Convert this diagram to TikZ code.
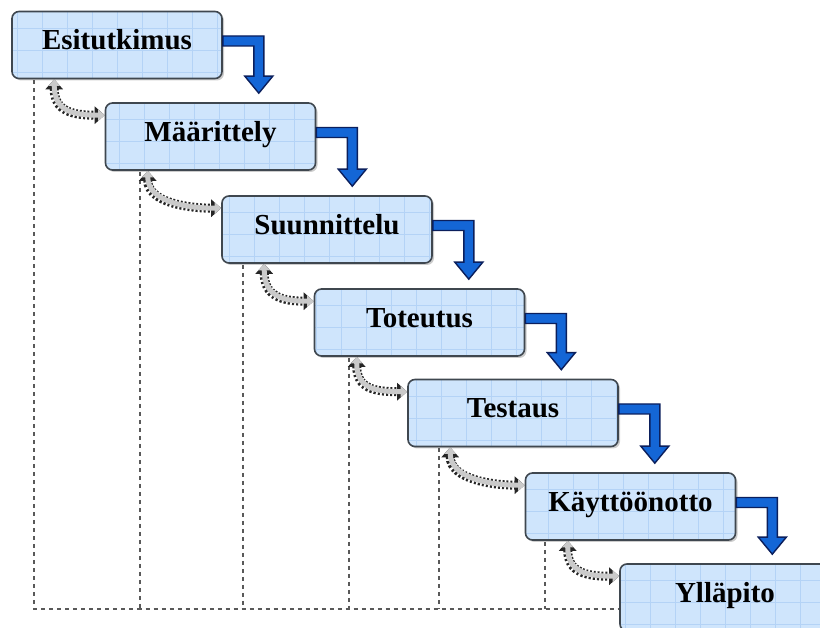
\documentclass[tikz,border=0pt]{standalone}
\usepackage{fontspec}
\setmainfont{Liberation Serif}
\usetikzlibrary{arrows.meta,calc,shadows}
\definecolor{boxfill}{HTML}{CFE5FC}
\definecolor{gridc}{HTML}{B4D3F6}
\definecolor{boxedge}{HTML}{3F474F}
\definecolor{arrfill}{HTML}{1466D6}
\definecolor{arredge}{HTML}{0B1F5C}
\definecolor{loopgray}{HTML}{CACACA}
\newcommand\blueflow[2]{%
  \path[fill=arrfill, draw=arredge, line width=1.4pt, line join=miter]
    let \p1=(#1.east), \p2=(#2.north) in
    (\x1, \y1+9pt) -- (\x1+41pt, \y1+9pt) -- (\x1+41pt, \y2+26pt) -- (\x1+50pt, \y2+26pt)
    -- (\x1+36pt, \y2+9pt) -- (\x1+22pt, \y2+26pt) -- (\x1+31pt, \y2+26pt)
    -- (\x1+31pt, \y1-1pt) -- (\x1, \y1-1pt) -- cycle;}
\newcommand\backflow[2]{%
  \draw[loopouter] ($(#1.south west)+(43,0)$) .. controls +(0,-32) and +(-32,0) .. ($(#2.north west)+(0,-13)$);
  \draw[loopinner] ($(#1.south west)+(43,0)$) .. controls +(0,-32) and +(-32,0) .. ($(#2.north west)+(0,-13)$);}
\begin{document}
\begin{tikzpicture}[x=1pt,y=1pt,
  phase/.style={draw=boxedge, line width=1.6pt, rounded corners=7pt, fill=boxfill,
    minimum width=210pt, minimum height=67pt, inner sep=0pt,
    font=\bfseries\fontsize{29}{29}\selectfont, text height=20pt, text depth=10pt,
    drop shadow={shadow xshift=2pt, shadow yshift=-2pt, fill=black!40, opacity=0.5},
    path picture={\draw[gridc, line width=0.9pt, xstep=25pt, ystep=22pt]
      ([shift={(-12pt,-8pt)}]path picture bounding box.south west) grid (path picture bounding box.north east);}},
  guide/.style={draw=black!65, line width=1.7pt, dash pattern=on 4pt off 4pt},
  loopouter/.style={draw=black!85, line width=9pt, dash pattern=on 2pt off 2pt,
    {Triangle[width=17pt,length=10pt]}-{Triangle[width=17pt,length=10pt]}},
  loopinner/.style={draw=loopgray, line width=5pt,
    {Triangle[width=11pt,length=6.5pt,fill=loopgray]}-{Triangle[width=11pt,length=6.5pt,fill=loopgray]}}]
\useasboundingbox (0,0) rectangle (820,628);
\clip (0,0) rectangle (820,628);
\coordinate (base) at (0,19);
% phases
\node[phase] (b1) at (117,583) {Esitutkimus};
\node[phase] (b2) at (210.5,491.5) {Määrittely};
\node[phase] (b3) at (327,398.5) {Suunnittelu};
\node[phase] (b4) at (419.5,305.5) {Toteutus};
\node[phase] (b5) at (513,215) {Testaus};
\node[phase] (b6) at (630.5,121.5) {Käyttöönotto};
\node[phase] (b7) at (725,30.5) {Ylläpito};
% guide lines
\draw[guide] ($(b1.south west)+(23,-1)$) |- (b7.west |- base);
\draw[guide] ($(b2.south west)+(35,-1)$) coordinate (u2) -- (u2 |- base);
\draw[guide] ($(b3.south west)+(22,-1)$) coordinate (u3) -- (u3 |- base);
\draw[guide] ($(b4.south west)+(35,-1)$) coordinate (u4) -- (u4 |- base);
\draw[guide] ($(b5.south west)+(32,-1)$) coordinate (u5) -- (u5 |- base);
\draw[guide] ($(b6.south west)+(20,-1)$) coordinate (u6) -- (u6 |- base);
% forward flows
\blueflow{b1}{b2}
\blueflow{b2}{b3}
\blueflow{b3}{b4}
\blueflow{b4}{b5}
\blueflow{b5}{b6}
\blueflow{b6}{b7}
% feedback loops
\backflow{b1}{b2}
\backflow{b2}{b3}
\backflow{b3}{b4}
\backflow{b4}{b5}
\backflow{b5}{b6}
\backflow{b6}{b7}
\end{tikzpicture}
\end{document}
